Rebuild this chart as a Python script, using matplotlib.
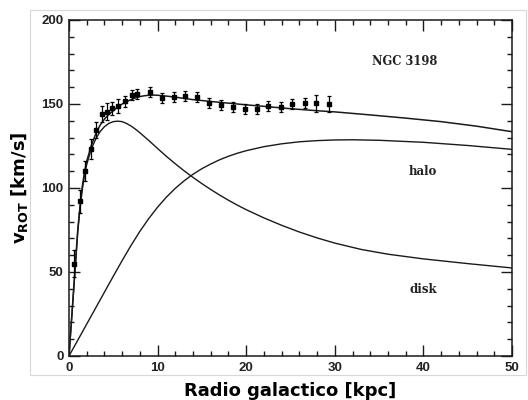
import matplotlib
matplotlib.use("Agg")
import matplotlib.pyplot as plt
from matplotlib.ticker import MultipleLocator
from matplotlib.patches import Rectangle

# Observed rotation curve points (kpc, km/s)
obs_r = [0.56, 1.2, 1.84, 2.45, 3.05, 3.69, 4.25, 4.9, 5.57, 6.3, 7.07, 7.7, 9.1,
         10.5, 11.8, 13.1, 14.5, 15.8, 17.2, 18.5, 19.9, 21.2, 22.5, 23.9, 25.2,
         26.6, 27.9, 29.3]
obs_v = [55, 92, 110, 123, 134.5, 144, 145.5, 147.4, 148.8, 151.5, 155.4, 156, 157.3,
         153.4, 154, 154.6, 154.4, 150.4, 149.6, 148.4, 146.8, 147.2, 148.8, 148.4, 150,
         150.8, 150.4, 150]
obs_err = [8, 7, 6, 6, 5, 5, 5, 4, 4, 3, 3, 3, 3,
           3, 3, 3, 3, 3, 3, 3, 3, 3, 3, 3, 3,
           3, 5, 5]

# Model curves
tot_r = [0, 0.25, 0.5, 0.75, 1, 1.25, 1.5, 1.75, 2, 2.5, 3, 3.5, 4, 4.5, 5, 5.5, 6,
         6.5, 7, 7.5, 8, 8.5, 9, 9.5, 10, 11, 12, 13, 14, 16, 18, 20, 22, 25, 28, 30,
         34, 38, 42, 46, 50]
tot_v = [0, 19, 38, 57, 76, 89.5, 101, 109.5, 116, 125, 132, 137.3, 141, 143.8, 146,
         148.2, 150, 151.4, 152.6, 153.6, 154.4, 154.9, 155.2, 155.3, 155.2, 154.7,
         154.1, 153.3, 152.6, 151.5, 150.5, 149.5, 148.6, 147.2, 146, 145.3, 143.5,
         141.6, 139.5, 136.8, 133.5]

disk_r = [0, 0.25, 0.5, 0.75, 1, 1.25, 1.5, 1.75, 2, 2.5, 3, 3.5, 4, 4.5, 5, 5.5, 6,
          6.5, 7, 7.5, 8, 8.5, 9, 9.5, 10, 11, 12, 13, 14, 15, 16, 17, 18, 19, 20,
          22, 24, 26, 28, 30, 33, 36, 40, 45, 50]
disk_v = [0, 18.5, 37, 56, 74.5, 88, 99, 107.5, 114, 123, 129, 133.5, 136.5, 138.5,
          139.5, 139.8, 139.5, 138.4, 136.9, 135, 132.9, 130.6, 128.3, 125.9, 123.5,
          118.8, 114.4, 110.2, 106.3, 102.6, 99.1, 95.8, 92.7, 89.8, 87.1, 82.2, 77.8,
          73.8, 70.3, 67.2, 63.4, 60.6, 57.8, 55, 52.4]

halo_r = [0, 1, 2, 3, 4, 5, 6, 7, 8, 9, 10, 11, 12, 13, 14, 15, 16, 17, 18, 19, 20,
          22, 24, 26, 28, 30, 32, 35, 40, 45, 50]
halo_v = [0, 9.5, 19, 28.5, 38, 47.5, 56.8, 65.8, 74.2, 81.8, 88.6, 94.6, 99.8,
          104.3, 108.2, 111.5, 114.3, 116.8, 118.9, 120.7, 122.2, 124.6, 126.3, 127.5,
          128.2, 128.6, 128.7, 128.4, 127.2, 125.3, 123]

xticks = [0, 10, 20, 30, 40, 50]
yticks = [0, 50, 100, 150, 200]

fig = plt.figure(figsize=(5.28, 4.0), dpi=100)
# light scan border
fig.patches.append(Rectangle((30 / 528, 1 - 375 / 400), 496 / 528, 365 / 400,
                             transform=fig.transFigure, fill=False,
                             edgecolor="#d8d8d8", linewidth=0.8))
ax = fig.add_axes([69 / 528, 1 - 356 / 400, 443 / 528, 336 / 400])

lc = "#1a1a1a"
ax.plot(tot_r, tot_v, color=lc, lw=1.1)
ax.plot(disk_r, disk_v, color=lc, lw=1.0)
ax.plot(halo_r, halo_v, color=lc, lw=1.0)
ax.errorbar(obs_r, obs_v, yerr=obs_err, fmt="s", color="black", ms=3.5,
            elinewidth=0.9, capsize=1.5, capthick=0.9)

ax.set_xlim(0, 50)
ax.set_ylim(0, 200)
ax.set_xticks(xticks)
ax.set_yticks(yticks)
ax.xaxis.set_minor_locator(MultipleLocator(2))
ax.yaxis.set_minor_locator(MultipleLocator(10))
ax.tick_params(which="both", direction="in", top=True, right=True, width=1.0,
               color=lc)
ax.tick_params(which="major", length=8, labelsize=9.5, pad=4)
ax.tick_params(which="minor", length=3.5)
for lab in ax.get_xticklabels() + ax.get_yticklabels():
    lab.set_fontfamily("Liberation Sans")
    lab.set_fontweight("bold")
    lab.set_color("#222222")
for s in ax.spines.values():
    s.set_linewidth(1.1)
    s.set_color(lc)

ax.set_xlabel("Radio galactico [kpc]", fontsize=13, fontweight="bold",
              family="DejaVu Sans", labelpad=6)
ax.set_ylabel(r"v$_{\mathbf{ROT}}$ [km/s]", fontsize=13, fontweight="bold",
              family="DejaVu Sans", labelpad=8)

ax.text(37.9, 175.5, "NGC 3198", fontsize=8.3, fontweight="bold",
        family="DejaVu Serif", ha="center", va="center", color="#222222")
ax.text(39.9, 109.7, "halo", fontsize=8.5, fontweight="bold",
        family="DejaVu Serif", ha="center", va="center", color="#222222")
ax.text(40, 39.8, "disk", fontsize=8.5, fontweight="bold",
        family="DejaVu Serif", ha="center", va="center", color="#222222")

fig.savefig("out.png", dpi=100)
